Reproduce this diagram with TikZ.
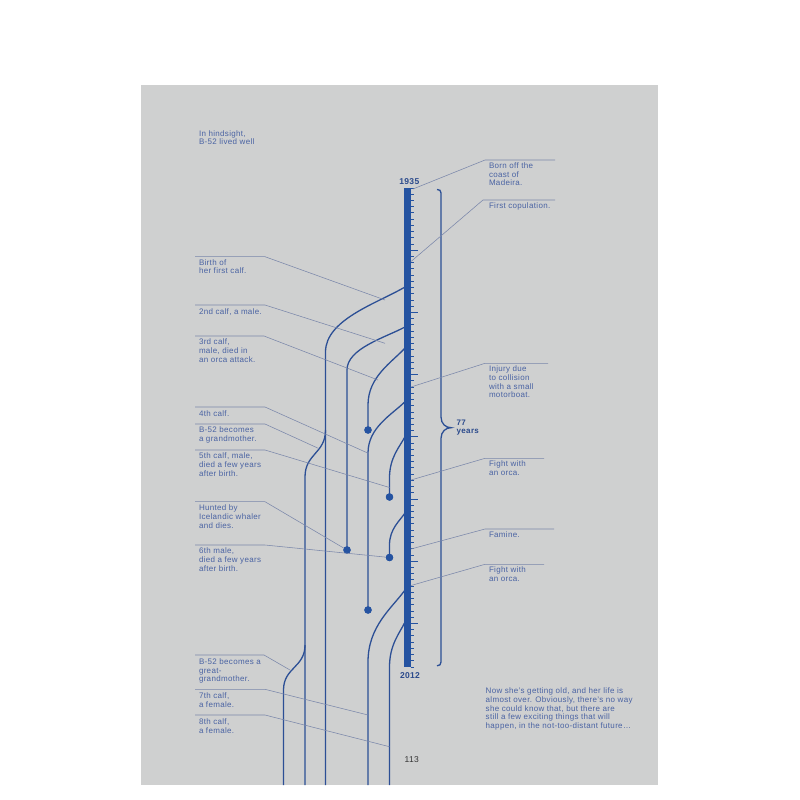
\documentclass[tikz,border=0pt]{standalone}
\usepackage{fontspec}
\setmainfont{Liberation Sans}[LetterSpace=4]
\definecolor{pagegrey}{HTML}{CFD0D0}
\definecolor{barblue}{HTML}{2553A1}
\definecolor{linec}{HTML}{2C4F95}
\definecolor{txtblue}{HTML}{4A63A3}
\definecolor{leadc}{HTML}{7A87AA}
\definecolor{yearc}{HTML}{2B4A8C}
\newcommand\mlines[1]{\vtop{\baselineskip=8.7pt\lineskiplimit=-100pt\halign{##\hfil\cr#1\crcr}}}
\begin{document}
\begin{tikzpicture}[x=1pt,y=-1pt,
  lbl/.style={anchor=base west, inner sep=0pt, outer sep=0pt, text=txtblue, font=\fontsize{8}{8.7}\selectfont},
  leader/.style={draw=leadc, line width=0.55pt},
  branch/.style={draw=linec, line width=1.3pt},
  dotn/.style={circle, fill=barblue, minimum size=7.4pt, inner sep=0pt, outer sep=0pt},
  tickm/.style={draw=barblue, line width=0.9pt},
  yearlbl/.style={font=\bfseries\fontsize{8.5}{9}\selectfont, text=yearc, inner sep=0pt, anchor=base}]
\useasboundingbox (0,0) rectangle (800,800);
\fill[white] (0,0) rectangle (800,800);
\fill[pagegrey] (141,85) rectangle (658,785);

% dots
\node[dotn] (d2) at (347,550) {};
\node[dotn] (d3) at (368,430) {};
\node[dotn] (d4) at (368,610) {};
\node[dotn] (d5) at (389.5,497) {};
\node[dotn] (d6) at (389.5,557.5) {};

% branches from the timeline
\draw[branch] (405,287) .. controls (377.2,303.25) and (325.5,319.5) .. (325.5,352) -- (325.5,785);
\draw[branch] (405,327) .. controls (384.7,337.75) and (347,348.5) .. (347,370) -- (d2.center);
\draw[branch] (405,348) .. controls (392.05,362.25) and (368,376.5) .. (368,405) -- (d3.center);
\draw[branch] (405,401.7) .. controls (392.05,414.5) and (368,427.35) .. (368,453) -- (d4.center);
\draw[branch] (405,436.7) .. controls (399.6,447) and (389.5,457.35) .. (389.5,478) -- (d5.center);
\draw[branch] (405,513) .. controls (399.6,521) and (389.5,529) .. (389.5,545) -- (d6.center);
\draw[branch] (405,590) .. controls (392.05,608) and (368,626) .. (368,662) -- (368,785);
\draw[branch] (405,622) .. controls (399.6,633.25) and (389.5,644.5) .. (389.5,667) -- (389.5,785);
% grandchildren
\draw[branch] (325.5,430) .. controls (325.5,453.5) and (305,453.5) .. (305,477) -- (305,785);
\draw[branch] (305,645) .. controls (305,667.5) and (283.5,667.5) .. (283.5,690) -- (283.5,785);

% redraw dots on top
\node[dotn] at (d2) {};
\node[dotn] at (d3) {};
\node[dotn] at (d4) {};
\node[dotn] at (d5) {};
\node[dotn] at (d6) {};

% timeline bar
\fill[barblue] (403.5,188) rectangle (410.5,667);
\foreach \i in {0,...,77}{\draw[tickm] (410.5,{188+\i*6.22078}) -- ++(3.6,0);}
\foreach \i in {10,20,...,70}{\draw[tickm] (410.5,{188+\i*6.22078}) -- ++(7.3,0);}
\node[yearlbl] (y1935) at (409.3,184.3) {1935};
\node[yearlbl] (y2012) at (410,678.3) {2012};

% brace
\draw[branch] (437,189.5) .. controls (439.5,189.5) and (441,190.5) .. (441,193) -- (441,417) .. controls (441,424) and (446,427.7) .. (451,427.7) .. controls (446,427.7) and (441,431.4) .. (441,438.4) -- (441,662) .. controls (441,664.5) and (439.5,665.8) .. (437,665.8);
\node[anchor=base west, inner sep=0pt, font=\bfseries\fontsize{8}{9}\selectfont, text=yearc] (t77) at (456.5,425) {\mlines{77\cr years}};

% right leaders
\coordinate (r1) at (413,189);   \coordinate (r2) at (411,261.5);
\coordinate (r3) at (411,387);   \coordinate (r4) at (411,480);
\coordinate (r5) at (411,549);   \coordinate (r6) at (411,585.5);
\draw[leader] (r1) -- (485,160) -- (555,160);
\draw[leader] (r2) -- (483,200) -- (555,200);
\draw[leader] (r3) -- (485,363.3) -- (548,363.3);
\draw[leader] (r4) -- (485,458.3) -- (544,458.3);
\draw[leader] (r5) -- (485,529) -- (554,529);
\draw[leader] (r6) -- (485,564.3) -- (544,564.3);

% left leaders
\coordinate (p1) at (385,300);   \coordinate (p2) at (385,343.3);
\coordinate (p3) at (378,380);   \coordinate (p4) at (368.3,453.3);
\coordinate (pg1) at (318.3,448.3); \coordinate (p5) at (389.5,487.5);
\coordinate (pg2) at (290,670);  \coordinate (p7) at (368,715);
\coordinate (p8) at (389.5,746.7);
\draw[leader] (195,256.7) -- (265,256.7) -- (p1);
\draw[leader] (195,305) -- (265,305) -- (p2);
\draw[leader] (195,336) -- (264,336) -- (p3);
\draw[leader] (195,407) -- (265,407) -- (p4);
\draw[leader] (195,424) -- (265,424) -- (pg1);
\draw[leader] (195,450) -- (265,450) -- (p5);
\draw[leader] (195,501.7) -- (265,501.7) -- (d2);
\draw[leader] (195,545) -- (265,545) -- (d6);
\draw[leader] (195,655) -- (264,655) -- (pg2);
\draw[leader] (195,689.3) -- (265,689.3) -- (p7);
\draw[leader] (195,715) -- (265,715) -- (p8);

% right texts
\node[lbl] (tBorn) at (489,168.3) {\mlines{Born off the\cr coast of\cr Madeira.}};
\node[lbl] (tCop) at (489,208.3) {First copulation.};
\node[lbl] (tInj) at (489,371.6) {\mlines{Injury due\cr to collision\cr with a small\cr motorboat.}};
\node[lbl] (tF1) at (489,466.3) {\mlines{Fight with\cr an orca.}};
\node[lbl] (tFam) at (489,537) {Famine.};
\node[lbl] (tF2) at (489,572.6) {\mlines{Fight with\cr an orca.}};

% left texts
\node[lbl] (tHind) at (199,136) {\mlines{In hindsight,\cr B-52 lived well}};
\node[lbl] (tBirth) at (199,265) {\mlines{Birth of\cr her first calf.}};
\node[lbl] (t2) at (199,314.3) {2nd calf, a male.};
\node[lbl] (t3) at (199,344.6) {\mlines{3rd calf,\cr male, died in\cr an orca attack.}};
\node[lbl] (t4) at (199,416) {4th calf.};
\node[lbl] (tgm) at (199,432.6) {\mlines{B-52 becomes\cr a grandmother.}};
\node[lbl] (t5) at (199,458.6) {\mlines{5th calf, male,\cr died a few years\cr after birth.}};
\node[lbl] (thunt) at (199,510.6) {\mlines{Hunted by\cr Icelandic whaler\cr and dies.}};
\node[lbl] (t6) at (199,553.6) {\mlines{6th male,\cr died a few years\cr after birth.}};
\node[lbl] (tggm) at (199,664.3) {\mlines{B-52 becomes a\cr great-\cr grandmother.}};
\node[lbl] (t7) at (199,698.3) {\mlines{7th calf,\cr a female.}};
\node[lbl] (t8) at (199,724.3) {\mlines{8th calf,\cr a female.}};

% closing paragraph and page number
\node[lbl] (tNow) at (485.7,693.6) {\mlines{Now she’s getting old, and her life is\cr almost over. Obviously, there’s no way\cr she could know that, but there are\cr still a few exciting things that will\cr happen, in the not-too-distant future…}};
\node[anchor=base, inner sep=0pt, font=\fontsize{8.5}{9}\selectfont, text=black!80] (pgnum) at (411.7,762) {113};
\end{tikzpicture}
\end{document}
